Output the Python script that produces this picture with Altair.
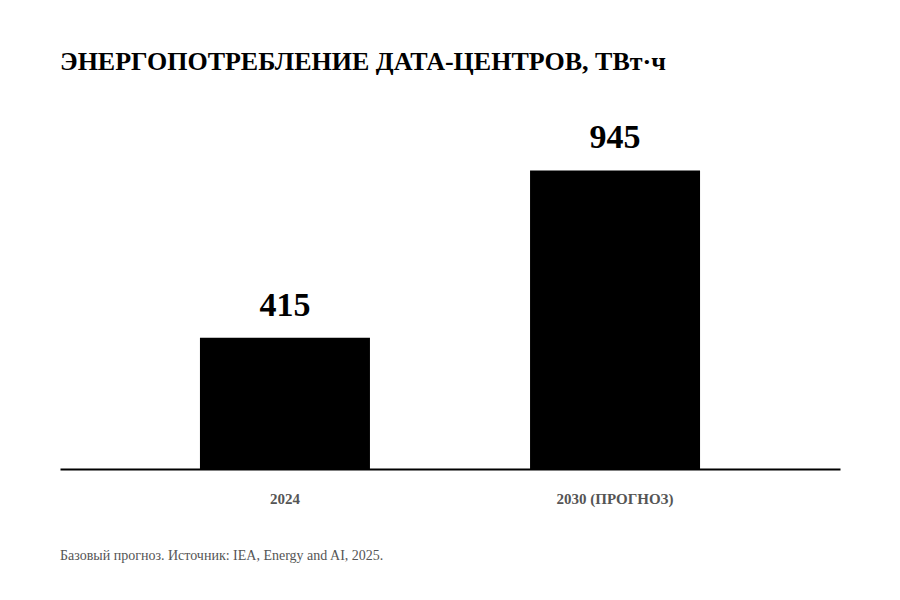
import altair as alt
import pandas as pd

categories = ["2024", "2030 (ПРОГНОЗ)"]
values = [415, 945]
title_text = "ЭНЕРГОПОТРЕБЛЕНИЕ ДАТА-ЦЕНТРОВ, ТВт·ч"
note_text = "Базовый прогноз. Источник: IEA, Energy and AI, 2025."

source = pd.DataFrame({"period": categories, "value": values})
font = "Liberation Serif"

x_enc = alt.X(
    "period:N",
    sort=categories,
    scale=alt.Scale(paddingInner=0.485, paddingOuter=0.424),
    axis=alt.Axis(
        title=None,
        labelAngle=0,
        labelFont=font,
        labelFontSize=15,
        labelFontWeight="bold",
        labelColor="#555555",
        labelPadding=22,
        ticks=False,
        domainColor="#000000",
        domainWidth=2,
    ),
)
y_enc = alt.Y(
    "value:Q",
    scale=alt.Scale(domain=[0, 1000], nice=False),
    axis=None,
)

bars = alt.Chart(source).mark_bar(color="#000000").encode(x=x_enc, y=y_enc)

labels = (
    alt.Chart(source)
    .mark_text(font=font, fontSize=34, fontWeight="bold", color="#000000",
               baseline="alphabetic", dy=-22)
    .encode(x=x_enc, y=y_enc, text="value:Q")
)

title = (
    alt.Chart(pd.DataFrame({"t": [title_text]}))
    .mark_text(font=font, fontSize=26, fontWeight="bold", color="#000000",
               align="left", baseline="alphabetic")
    .encode(x=alt.value(0), y=alt.value(-83), text="t:N")
)

note = (
    alt.Chart(pd.DataFrame({"t": [note_text]}))
    .mark_text(font=font, fontSize=14, color="#555555",
               align="left", baseline="alphabetic")
    .encode(x=alt.value(0), y=alt.value(407), text="t:N")
)

chart = (
    (bars + labels + title + note)
    .properties(
        width=780,
        height=316,
        autosize=alt.AutoSizeParams(type="none"),
        padding={"left": 52, "top": 145, "right": 52, "bottom": 120},
        view=alt.ViewBackground(stroke="transparent"),
    )
    .configure_view(stroke="transparent")
    .configure(background="#ffffff")
)

chart.save("out.html", embed_options={"renderer": "svg", "actions": False})
